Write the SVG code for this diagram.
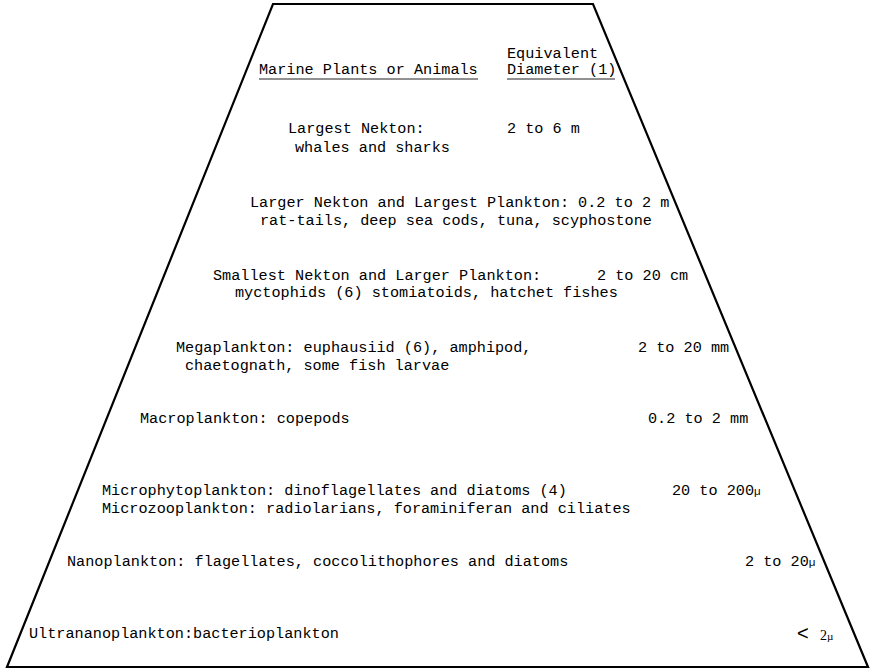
<svg xmlns="http://www.w3.org/2000/svg" width="871" height="670" viewBox="0 0 871 670">
<style>
text{font-family:"Liberation Mono","DejaVu Sans Mono",monospace;font-size:15.2px;fill:#000}
.mu{font-size:11px}
.lt{font-family:"Liberation Sans",sans-serif;font-size:20px}
.sm{font-family:"Liberation Serif",serif;font-size:14px}
.frame{fill:#fff;stroke:#000;stroke-width:2.2;stroke-linejoin:miter}
.ul{stroke:#222;stroke-width:1.2}
</style>
<rect width="871" height="670" fill="#fff"/>
<polygon class="frame" points="273,4 593,4 868,667 7,667"/>
<g id="header">
<text x="259" y="74">Marine Plants or Animals</text>
<text x="507" y="57.5">Equivalent</text>
<text x="507" y="74">Diameter (1)</text>
<line class="ul" x1="259" y1="79" x2="478" y2="79"/>
<line class="ul" x1="507" y1="79" x2="615" y2="79"/>
</g>
<g id="row1">
<text x="288" y="133">Largest Nekton:</text>
<text x="295" y="152">whales and sharks</text>
<text x="507" y="133">2 to 6 m</text>
</g>
<g id="row2">
<text x="250" y="207">Larger Nekton and Largest Plankton: 0.2 to 2 m</text>
<text x="260" y="225">rat-tails, deep sea cods, tuna, scyphostone</text>
</g>
<g id="row3">
<text x="213" y="280">Smallest Nekton and Larger Plankton:</text>
<text x="235" y="297">myctophids (6) stomiatoids, hatchet fishes</text>
<text x="597" y="280">2 to 20 cm</text>
</g>
<g id="row4">
<text x="176" y="352">Megaplankton: euphausiid (6), amphipod,</text>
<text x="185" y="370">chaetognath, some fish larvae</text>
<text x="638" y="352">2 to 20 mm</text>
</g>
<g id="row5">
<text x="140" y="423">Macroplankton: copepods</text>
<text x="648" y="423">0.2 to 2 mm</text>
</g>
<g id="row6">
<text x="102" y="495">Microphytoplankton: dinoflagellates and diatoms (4)</text>
<text x="102" y="513">Microzooplankton: radiolarians, foraminiferan and ciliates</text>
<text x="672" y="495">20 to 200<tspan class="mu">µ</tspan></text>
</g>
<g id="row7">
<text x="67" y="566">Nanoplankton: flagellates, coccolithophores and diatoms</text>
<text x="745" y="566">2 to 20<tspan class="mu">µ</tspan></text>
</g>
<g id="row8">
<text x="29" y="638">Ultrananoplankton:bacterioplankton</text>
<text x="797" y="640" class="lt">&lt;</text>
<text x="820" y="640" class="sm">2<tspan class="mu">µ</tspan></text>
</g>
</svg>
